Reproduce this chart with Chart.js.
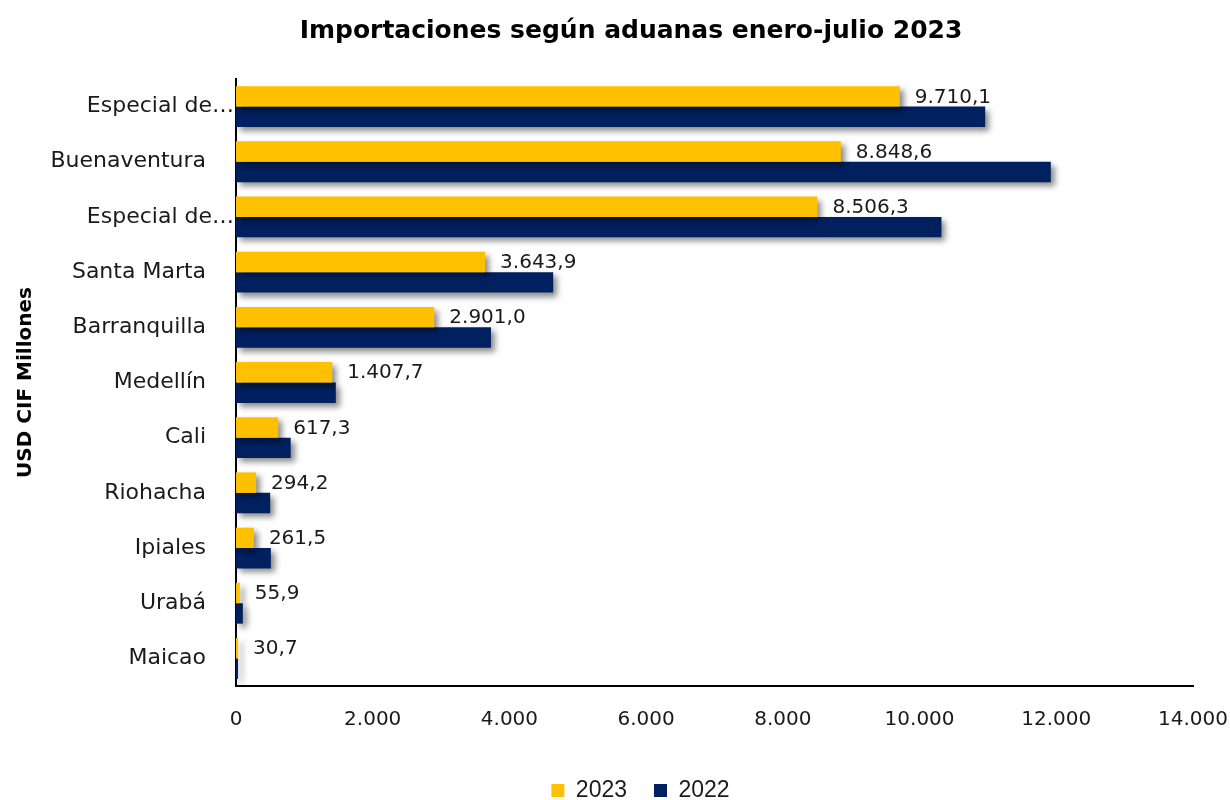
<!DOCTYPE html>
<html>
<head>
<meta charset="utf-8">
<script src="https://cdn.jsdelivr.net/npm/chart.js@4"></script>
<style>
	html,body{margin:0;padding:0;background:#fff;}
	#wrap{width:1230px;height:800px;}
</style>
</head>
<body>
<div id="wrap"><canvas id="barChart"></canvas></div>
<script>
// aduanas (tick labels keep the trailing spaces of the original sheet)
var aduanas=["Especial de…","Buenaventura    ","Especial de…","Santa Marta    ","Barranquilla    ","Medellín    ","Cali    ","Riohacha    ","Ipiales    ","Urabá    ","Maicao    "];
var imp2023=[9710.1,8848.6,8506.3,3643.9,2901.0,1407.7,617.3,294.2,261.5,55.9,30.7];
var imp2022=[10960,11920,10320,4640,3730,1460,800,500,510,100,30];
var xTicks=[0,2000,4000,6000,8000,10000,12000,14000];
var titulo="Importaciones según aduanas enero-julio 2023";

var font="'DejaVu Sans', sans-serif";

function fmtNum(v,dec){
	var s=v.toFixed(dec);
	var parts=s.split(".");
	parts[0]=parts[0].replace(/\B(?=(\d{3})+(?!\d))/g,".");
	return parts.join(",");
}

// drop shadow under the bars + labels + title
var shadowPlugin={
	id:"shadow",
	afterLayout:function(chart){
		// legend sits a bit right of the canvas centre
		chart.legend.left+=44;
		chart.legend.right+=44;
	},
	beforeDatasetsDraw:function(chart){
		var ctx=chart.ctx;
		ctx.save();
		ctx.shadowColor="rgba(0,0,0,0.45)";
		ctx.shadowBlur=6;
		ctx.shadowOffsetX=4;
		ctx.shadowOffsetY=4;
	},
	afterDatasetsDraw:function(chart){
		chart.ctx.restore();
		var ctx=chart.ctx;
		var meta=chart.getDatasetMeta(0);
		ctx.save();
		ctx.font="20px "+font;
		ctx.fillStyle="#1a1a1a";
		ctx.textAlign="left";
		ctx.textBaseline="middle";
		for(var k=0;k<meta.data.length;k++){
			var el=meta.data[k];
			ctx.fillText(fmtNum(imp2023[k],1),el.x+15,el.y+1);
		}
		ctx.restore();
	},
	afterDraw:function(chart){
		var ctx=chart.ctx;
		ctx.save();
		ctx.font="bold 25px "+font;
		ctx.fillStyle="#000";
		ctx.textAlign="center";
		ctx.textBaseline="middle";
		ctx.fillText(titulo,631,31);
		ctx.restore();
	}
};

var chart=new Chart(document.getElementById("barChart").getContext("2d"),{
	type:"bar",
	data:{
		labels:aduanas,
		datasets:[
			{label:"2023",data:imp2023,backgroundColor:"#FFC000"},
			{label:"2022",data:imp2022,backgroundColor:"#002060"}
		]
	},
	options:{
		indexAxis:"y",
		responsive:true,
		maintainAspectRatio:false,
		animation:false,
		categoryPercentage:0.74,
		barPercentage:1,
		layout:{padding:{left:0,right:37,top:79,bottom:-12}},
		plugins:{
			title:{display:false},
			legend:{
				position:"bottom",
				labels:{
					color:"#1a1a1a",
					font:{family:"'Liberation Sans', Arial, sans-serif",size:23},
					boxWidth:13,boxHeight:13,padding:27
				}
			},
			tooltip:{enabled:false}
		},
		scales:{
			x:{
				min:0,max:14000,
				afterBuildTicks:function(scale){
					scale.ticks=xTicks.map(function(v){return {value:v};});
				},
				afterFit:function(scale){
					scale.height=66;
					scale.paddingLeft=0;
					scale.paddingRight=0;
				},
				grid:{display:false,drawTicks:false},
				border:{display:true,color:"#000",width:2},
				ticks:{
					color:"#1a1a1a",
					font:{family:font,size:20},
					padding:22,
					maxRotation:0,
					callback:function(v){return fmtNum(v,0);}
				}
			},
			y:{
				afterFit:function(scale){scale.width=236;},
				grid:{display:false,drawTicks:false},
				border:{display:true,color:"#000",width:2},
				title:{
					display:true,
					text:"USD CIF Millones",
					color:"#000",
					font:{family:font,size:20,weight:"bold"},
					padding:{top:14,bottom:0}
				},
				ticks:{
					color:"#1a1a1a",
					font:{family:font,size:22},
					padding:2,
					autoSkip:false
				}
			}
		}
	},
	plugins:[shadowPlugin]
});
</script>
</body>
</html>
